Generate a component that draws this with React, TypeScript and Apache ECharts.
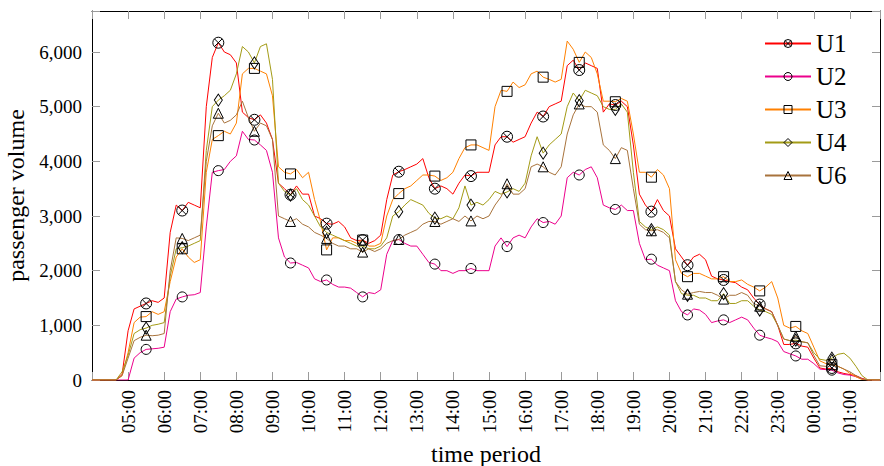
import React, { useEffect, useRef } from "react";
import * as echarts from "echarts";

// Time grid: minutes since midnight, sampled every 10 minutes from 04:00 to 01:50 (next day)
const minutes: number[] = Array.from({ length: 132 }, (_, i) => 240 + 10 * i);

// passenger volume per 10-minute slot (one row per hour, 04h ... 01h)
const U1 = [
  0, 0, 0, 0, 0, 100,
  900, 1300, 1350, 1400, 1450, 1420,
  1500, 2700, 3200, 3100, 3250, 3200,
  3150, 5000, 5900, 6170, 6000, 5950,
  5800, 4900, 4800, 4760, 4850, 4700,
  4400, 3600, 3500, 3390, 3550, 3400,
  3400, 3000, 2950, 2860, 2850, 2900,
  2800, 2600, 2550, 2560, 2500, 2550,
  2650, 3300, 3750, 3810, 3850, 3900,
  3950, 4050, 3700, 3500, 3550, 3500,
  3400, 3600, 3750, 3730, 3800, 3800,
  3800, 4300, 4450, 4450, 4350, 4400,
  4450, 4700, 4900, 4820, 5000, 5050,
  5100, 5750, 5850, 5670, 5800, 5750,
  5700, 4900, 5050, 5030, 5100, 5000,
  4300, 3400, 3200, 3080, 3300, 3100,
  3000, 2400, 2250, 2100, 2250, 2300,
  2200, 1900, 1850, 1830, 1800, 1780,
  1700, 1650, 1500, 1380, 1300, 1250,
  1000, 650, 650, 670, 620, 600,
  400, 220, 200, 220, 150, 120,
  100, 80, 30, 0, 0, 0,
];
const U2 = [
  0, 0, 0, 0, 0, 0,
  0, 400, 500, 560, 570, 580,
  600, 1250, 1480, 1520, 1550, 1560,
  1600, 2800, 3800, 3830, 3850, 4000,
  4100, 4550, 4400, 4390, 4300, 4200,
  3800, 2600, 2250, 2140, 2150, 2100,
  2050, 1850, 1800, 1830, 1750, 1700,
  1700, 1680, 1600, 1520, 1600, 1580,
  1650, 2300, 2550, 2570, 2500, 2450,
  2450, 2300, 2150, 2120, 2000, 2000,
  1950, 2000, 2000, 2040, 2000, 2000,
  2000, 2450, 2600, 2440, 2600, 2650,
  2600, 2800, 2950, 2880, 2900, 2850,
  3000, 3700, 3800, 3750, 3850, 3900,
  3700, 3200, 3150, 3120, 3200, 3100,
  3100, 2500, 2200, 2210, 2100, 2050,
  2000, 1450, 1250, 1190, 1300, 1280,
  1200, 1050, 1080, 1100, 1050, 1100,
  1150, 1100, 950, 820, 780, 750,
  700, 520, 480, 440, 380, 380,
  300, 200, 190, 180, 130, 100,
  90, 60, 20, 0, 0, 0,
];
const U3 = [
  0, 0, 0, 0, 0, 80,
  500, 1050, 1150, 1160, 1250, 1200,
  1250, 1800, 2250, 2400, 2250, 2150,
  2200, 3800, 4400, 4470, 4550, 4500,
  4700, 5600, 5700, 5700, 5650, 5600,
  5200, 3900, 3800, 3770, 3850, 3700,
  3800, 3300, 2900, 2380, 2600, 2600,
  2550, 2550, 2500, 2560, 2450, 2450,
  2500, 3000, 3300, 3410, 3500, 3550,
  3650, 3750, 3750, 3730, 3650, 3700,
  3800, 4050, 4250, 4300, 4300, 4250,
  4200, 5000, 5300, 5280, 5450, 5350,
  5400, 5600, 5650, 5540, 5500, 5450,
  5500, 6200, 6050, 5810, 6000, 5900,
  5600, 5100, 5100, 5090, 5150, 5100,
  4500, 3800, 3800, 3710, 3850, 3750,
  3500, 2200, 1950, 1890, 1950, 1950,
  1900, 1850, 1850, 1890, 1800, 1800,
  1830, 1750, 1700, 1630, 1700, 1800,
  1500, 1000, 950, 980, 900, 850,
  600, 350, 300, 280, 250, 200,
  120, 60, 10, 0, 0, 0,
];
const U4 = [
  0, 0, 0, 0, 0, 150,
  450, 850, 920, 950, 1000, 1020,
  1050, 1900, 2400, 2420, 2450, 2500,
  2550, 4200, 5000, 5120, 5200, 5300,
  5600, 6100, 6000, 5800, 6100, 6150,
  5500, 3600, 3450, 3380, 3500, 3300,
  3200, 3000, 2800, 2700, 2650, 2600,
  2550, 2500, 2450, 2450, 2400, 2400,
  2450, 2600, 3000, 3080, 3200, 3300,
  3250, 3200, 3050, 2960, 2950, 3000,
  2950, 3150, 3550, 3200, 3250, 3200,
  3300, 3450, 3400, 3440, 3500, 3450,
  3600, 4100, 4450, 4150, 4300, 4400,
  4500, 5000, 5250, 5110, 5300, 5250,
  5200, 5000, 4950, 4950, 5050, 4900,
  3800, 2900, 2800, 2750, 2800, 2750,
  2650, 1800, 1580, 1550, 1550, 1500,
  1500, 1450, 1450, 1580, 1400, 1400,
  1450, 1450, 1350, 1280, 1250, 1200,
  1000, 750, 720, 730, 700, 680,
  500, 380, 360, 400, 470, 490,
  400, 250, 80, 0, 0, 0,
];
const U6 = [
  0, 0, 0, 0, 0, 80,
  400, 720, 780, 820, 810, 820,
  850, 2000, 2600, 2590, 2550, 2600,
  2650, 4000, 4650, 4880, 4700, 4750,
  4850, 5100, 4800, 4550, 4700, 4650,
  4400, 3000, 2950, 2900, 2950, 2850,
  2800, 2700, 2650, 2590, 2500, 2450,
  2450, 2400, 2400, 2340, 2400, 2350,
  2400, 2500, 2550, 2570, 2650, 2700,
  2750, 2850, 2900, 2900, 2850, 2900,
  2950, 2900, 3000, 2910, 3000, 2950,
  3000, 3200, 3350, 3590, 3400, 3400,
  3500, 3900, 3950, 3900, 3800, 3750,
  3900, 4500, 4850, 5050, 5000, 5000,
  4900, 4300, 4200, 4050, 4250, 4200,
  3500, 2850, 2750, 2730, 2750, 2700,
  2600, 1800, 1650, 1570, 1600, 1620,
  1600, 1600, 1550, 1480, 1550, 1550,
  1600, 1550, 1400, 1350, 1300, 1250,
  1000, 750, 720, 800, 700, 680,
  450, 260, 250, 380, 250, 200,
  150, 80, 20, 0, 0, 0,
];

const seriesNames = ["U1", "U2", "U3", "U4", "U6"];
const seriesValues = [U1, U2, U3, U4, U6];
const seriesColors = ["#ff0000", "#ec008c", "#ff8000", "#a39b16", "#a8733c"];
const otimes =
  "path://M0,10 A10,10 0 1,1 20,10 A10,10 0 1,1 0,10 Z M2.93,2.93 L17.07,17.07 M17.07,2.93 L2.93,17.07";
const seriesSymbols = [otimes, "circle", "rect", "diamond", "triangle"];
const seriesSymbolSizes = [11, 10, 10, [8, 12], 10];

const xMin = 240;
const xMax = 1550;
const yMax = 6750;

const FONT = "Liberation Serif";

function fmtTime(v: number): string {
  const h = Math.floor(v / 60) % 24;
  const m = v % 60;
  return String(h).padStart(2, "0") + ":" + String(m).padStart(2, "0");
}

export default function App() {
  const ref = useRef<HTMLDivElement>(null);
  useEffect(() => {
    if (!ref.current) return;
    const chart = echarts.init(ref.current, undefined, { renderer: "svg" });
    const tickStyle = { color: "#9a9a9a", width: 1 };
    const axisLine = { show: true, onZero: false, lineStyle: { color: "#000", width: 1 } };
    const series = seriesNames.map((name, k) => ({
      name,
      type: "line",
      symbol: seriesSymbols[k],
      symbolSize: seriesSymbolSizes[k],
      showSymbol: true,
      showAllSymbol: true,
      lineStyle: { color: seriesColors[k], width: 1 },
      itemStyle: { color: "rgba(0,0,0,0)", borderColor: "#000", borderWidth: 1 },
      emphasis: { disabled: true },
      data: seriesValues[k].map((v, i) => {
        const t = minutes[i];
        const mark = t % 60 === 30 && t >= 330 && t <= 1470;
        return mark ? { value: [t, v] } : { value: [t, v], symbol: "none" };
      }),
    }));
    chart.setOption({
      animation: false,
      backgroundColor: "#fff",
      textStyle: { fontFamily: FONT },
      grid: { left: 92, right: 4, top: 11, bottom: 86, outerBoundsMode: "none", containLabel: false },
      legend: {
        data: seriesNames,
        orient: "vertical",
        left: 764,
        top: 31,
        padding: 0,
        itemWidth: 46,
        itemHeight: 10,
        itemGap: 8,
        textStyle: { fontFamily: FONT, fontSize: 25, color: "#000", lineHeight: 24 },
        itemStyle: { color: "rgba(0,0,0,0)", borderColor: "#000", borderWidth: 1 },
      },
      xAxis: [
        {
          type: "value",
          min: xMin,
          max: xMax,
          interval: 60,
          position: "bottom",
          axisLine,
          axisTick: { show: true, inside: true, length: 8, lineStyle: tickStyle },
          splitLine: { show: false },
          axisLabel: {
            rotate: 90,
            margin: 10,
            fontFamily: FONT,
            fontSize: 19,
            color: "#000",
            formatter: (v: number) => (v < 300 || v > 1500 ? "" : fmtTime(v)),
          },
          name: "time period",
          nameLocation: "middle",
          nameGap: 62,
          nameTextStyle: { fontFamily: FONT, fontSize: 24, color: "#000" },
        },
        {
          type: "value",
          min: xMin,
          max: xMax,
          interval: 60,
          position: "top",
          axisLine,
          axisTick: { show: true, inside: true, length: 8, lineStyle: tickStyle },
          splitLine: { show: false },
          axisLabel: { show: false },
        },
      ],
      yAxis: [
        {
          type: "value",
          min: 0,
          max: yMax,
          interval: 1000,
          position: "left",
          axisLine,
          axisTick: { show: true, inside: true, length: 8, lineStyle: tickStyle },
          splitLine: { show: false },
          axisLabel: {
            margin: 10,
            fontFamily: FONT,
            fontSize: 19,
            color: "#000",
            formatter: (v: number) => (v % 1000 === 0 ? v.toLocaleString("en-US") : ""),
          },
          name: "passenger volume",
          nameLocation: "middle",
          nameGap: 62,
          nameTextStyle: { fontFamily: FONT, fontSize: 24, color: "#000" },
        },
        {
          type: "value",
          min: 0,
          max: yMax,
          interval: 1000,
          position: "right",
          axisLine,
          axisTick: { show: true, inside: true, length: 8, lineStyle: tickStyle },
          splitLine: { show: false },
          axisLabel: { show: false },
        },
      ],
      series,
    });
    return () => chart.dispose();
  }, []);
  return (
    <div
      ref={ref}
      style={{ position: "fixed", left: 0, top: 0, width: 884, height: 466, background: "#fff" }}
    />
  );
}
